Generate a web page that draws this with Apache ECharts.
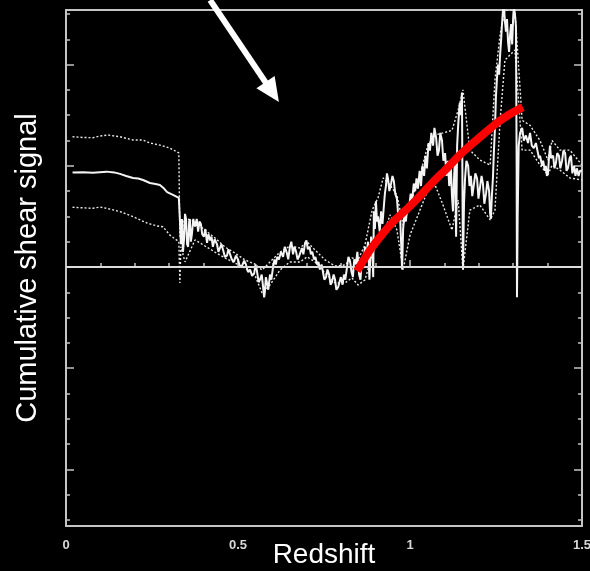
<!DOCTYPE html>
<html><head><meta charset="utf-8">
<script src="https://cdn.jsdelivr.net/npm/echarts@6/dist/echarts.min.js"></script>
<style>html,body{margin:0;padding:0;background:#000;}#c{width:590px;height:571px;}</style>
</head><body><div id="c"></div>
<script>
// ---- data ----
const xTickLabels = [0, 0.5, 1, 1.5];
const xMinorTicks = [0.1, 0.2, 0.3, 0.4, 0.6, 0.7, 0.8, 0.9, 1.1, 1.2, 1.3, 1.4];
const xMajorTicks = [0.5, 1];
const yMinorTicks = [-10,-9,-7,-6,-5,-3,-2,-1,1,2,3,5,6,7,9,10];
const yMajorTicks = [-8, -4, 0, 4, 8];

const centerLine = [
[0.019,3.74],[0.05,3.75],[0.078,3.73],[0.098,3.75],[0.118,3.77],[0.14,3.74],[0.157,3.68],[0.175,3.6],[0.195,3.52],[0.21,3.5],[0.224,3.44],[0.244,3.32],[0.26,3.28],[0.273,3.24],[0.285,3.1],[0.294,2.96],[0.311,2.85],[0.328,2.73],
[0.331,1.9],[0.334,0.9],[0.337,1.9],[0.340,0.6],[0.343,1.07],[0.346,2.1],[0.349,1.9],[0.352,0.9],[0.355,0.8],[0.358,1.8],[0.360,1.9],[0.363,1.0],[0.366,1.3],[0.370,1.9],
[0.375,1.6],[0.380,1.9],[0.384,1.4],[0.388,1.8],[0.392,1.7],[0.396,1.3],[0.401,1.2],[0.405,1.5],[0.410,0.95],[0.414,1.3],[0.419,1.05],[0.423,1.2],[0.427,0.8],[0.432,1.1],[0.439,0.9],[0.443,0.6],[0.448,0.6],[0.452,0.9],[0.456,0.7],[0.462,0.4],[0.468,0.45],[0.472,0.7],[0.477,0.5],[0.482,0.3],[0.488,0.2],[0.494,0.45],[0.500,0.3],[0.506,0.0],[0.512,0.05],[0.518,0.25],[0.523,0.1],[0.529,-0.2],[0.535,-0.1],[0.541,-0.35],[0.547,-0.25],[0.551,0.1],[0.555,-0.15],[0.560,-0.6],[0.564,-0.5],[0.569,-0.3],[0.573,-0.8],[0.576,-1.2],[0.578,-1.0],[0.581,-0.4],[0.584,-0.6],[0.588,-0.9],[0.593,-0.3],[0.597,-0.5],[0.602,0.0],[0.606,0.3],[0.610,0.1],[0.614,0.4],[0.619,0.3],[0.625,0.6],[0.631,0.4],[0.636,0.8],[0.642,0.55],[0.646,0.3],[0.651,0.8],[0.655,1.0],[0.660,0.5],[0.664,0.8],[0.669,0.6],[0.673,0.3],[0.677,0.4],[0.682,0.6],[0.686,0.75],[0.690,0.5],[0.695,0.95],[0.699,1.05],[0.703,0.7],[0.708,0.8],[0.712,0.5],[0.716,0.6],[0.721,0.3],[0.725,0.4],[0.730,0.1],[0.734,0.2],[0.738,-0.1],[0.743,0.1],[0.747,-0.2],[0.751,-0.5],[0.756,-0.4],[0.760,-0.1],[0.765,-0.3],[0.769,-0.7],[0.773,-0.6],[0.778,-0.3],[0.782,-0.5],[0.786,-0.9],[0.791,-0.8],[0.795,-0.6],[0.799,-0.4],[0.804,-0.7],[0.808,-0.3],[0.812,-0.5],[0.817,0.0],[0.821,0.4],[0.826,0.2],[0.830,-0.2],[0.834,-0.4],[0.838,0.3],[0.843,0.1],[0.847,0.6],[0.852,-0.3],[0.856,-0.5],[0.860,0.3],[0.865,0.1],[0.869,0.8],[0.873,0.4],[0.878,1.0],[0.882,-0.5],[0.887,1.2],[0.891,0.6],[0.893,-0.4],[0.895,2.2],[0.898,1.5],[0.901,2.6],[0.904,1.8],[0.907,2.0],[0.912,1.4],[0.916,2.2],[0.920,1.7],[0.924,2.4],[0.927,2.9],[0.930,3.2],[0.933,3.7],[0.936,3.5],[0.940,3.0],[0.945,3.3],[0.949,3.6],[0.953,3.4],[0.957,2.9],[0.962,2.7],[0.966,2.0],[0.971,2.1],[0.974,1.0],[0.977,-0.1],[0.980,1.5],[0.984,2.1],[0.988,1.8],[0.993,2.5],[0.997,2.3],[1.002,2.9],[1.006,2.6],[1.011,3.3],[1.015,3.0],[1.019,3.5],[1.023,3.1],[1.028,3.8],[1.032,3.2],[1.036,4.0],[1.041,3.6],[1.045,4.4],[1.049,3.9],[1.054,4.9],[1.058,4.6],[1.062,5.3],[1.067,4.8],[1.071,5.5],[1.076,5.1],[1.080,4.4],[1.084,4.6],[1.088,5.3],[1.093,5.0],[1.097,4.2],[1.102,4.5],[1.106,3.6],[1.110,4.2],[1.114,3.2],[1.119,3.9],[1.122,2.8],[1.125,2.2],[1.128,3.5],[1.131,4.4],[1.134,1.2],[1.137,4.8],[1.140,5.6],[1.143,6.2],[1.145,6.5],[1.148,6.0],[1.151,6.9],[1.153,2.0],[1.154,-0.1],[1.157,2.5],[1.160,3.5],[1.164,4.2],[1.169,4.0],[1.173,3.2],[1.177,3.6],[1.181,2.8],[1.186,3.3],[1.190,3.7],[1.195,3.5],[1.199,2.7],[1.203,3.1],[1.208,3.6],[1.212,3.3],[1.216,2.5],[1.221,2.9],[1.225,3.4],[1.230,3.0],[1.233,2.1],[1.235,1.9],[1.238,2.8],[1.241,3.5],[1.244,4.6],[1.247,5.5],[1.250,6.8],[1.253,7.5],[1.256,8.0],[1.259,7.6],[1.262,8.4],[1.265,9.0],[1.267,9.5],[1.270,10.1],[1.273,10.3],[1.276,9.7],[1.279,9.3],[1.282,9.8],[1.285,8.9],[1.288,8.5],[1.291,9.2],[1.294,9.6],[1.297,8.8],[1.300,9.9],[1.302,10.3],[1.305,10.0],[1.308,9.5],[1.310,4.0],[1.311,-1.2],[1.313,2.0],[1.316,4.8],[1.320,5.3],[1.326,5.5],[1.331,5.0],[1.337,5.2],[1.343,4.9],[1.349,5.3],[1.354,4.8],[1.360,4.7],[1.366,4.9],[1.369,4.7],[1.375,4.3],[1.378,4.4],[1.384,4.0],[1.387,4.2],[1.392,3.8],[1.395,4.0],[1.398,3.6],[1.401,3.7],[1.404,4.3],[1.407,4.8],[1.410,4.3],[1.416,4.4],[1.420,3.9],[1.424,4.1],[1.428,4.5],[1.433,4.4],[1.437,3.9],[1.442,4.2],[1.446,4.6],[1.451,4.5],[1.455,3.8],[1.459,3.9],[1.464,4.3],[1.468,4.4],[1.472,3.7],[1.477,4.0],[1.481,3.6],[1.485,3.9],[1.490,3.6],[1.494,3.8],[1.500,3.8]
];
const upperLine = [
[0.019,5.15],[0.05,5.12],[0.078,5.11],[0.1,5.18],[0.122,5.22],[0.14,5.18],[0.157,5.15],[0.195,5.02],[0.224,5.02],[0.244,4.90],[0.273,4.82],[0.302,4.70],[0.328,4.51],[0.331,1.2],
[0.346,1.94],[0.375,1.78],[0.404,1.46],[0.433,1.15],[0.462,0.79],[0.491,0.55],[0.520,0.28],[0.549,0.12],[0.570,-0.12],[0.593,0.2],[0.622,0.59],[0.651,0.83],[0.680,0.75],[0.701,0.99],[0.724,0.67],[0.753,0.28],[0.782,0.04],[0.811,0.08],[0.831,0.36],[0.849,0.28],
[0.869,0.87],[0.890,2.25],[0.907,2.73],[0.922,3.52],[0.942,3.24],[0.962,2.85],[0.980,1.66],[1.000,2.45],[1.029,3.64],[1.052,4.82],[1.073,5.22],[1.096,5.3],[1.122,5.4],[1.140,6.2],[1.154,7.0],[1.174,4.62],[1.203,4.23],[1.233,4.03],[1.247,7.4],[1.262,9.2],[1.276,10.16],[1.305,10.16],[1.326,5.8],[1.349,5.6],[1.378,5.0],[1.401,4.23],[1.413,5.0],[1.436,4.62],[1.465,4.62],[1.500,4.03]
];
const lowerLine = [
[0.019,2.36],[0.078,2.32],[0.099,2.37],[0.128,2.29],[0.157,2.19],[0.195,1.99],[0.235,1.74],[0.265,1.62],[0.282,1.59],[0.302,1.26],[0.328,1.0],[0.331,-0.63],[0.334,0.8],
[0.346,0.2],[0.375,1.07],[0.404,0.83],[0.433,0.59],[0.462,0.36],[0.491,0.16],[0.520,-0.04],[0.549,-0.32],[0.570,-1.03],[0.593,-0.71],[0.622,-0.12],[0.651,0.2],[0.680,0.2],[0.701,0.4],[0.724,0.2],[0.753,-0.24],[0.782,-0.63],[0.811,-0.63],[0.831,-0.43],[0.849,-0.71],
[0.869,-0.51],[0.890,0.47],[0.907,1.15],[0.922,1.26],[0.942,2.06],[0.962,1.46],[0.980,-0.12],[1.000,1.26],[1.029,2.25],[1.052,3.04],[1.073,3.24],[1.096,2.45],[1.122,1.46],[1.140,2.65],[1.154,-0.12],[1.174,2.25],[1.203,2.45],[1.233,1.86],[1.247,2.25],[1.262,5.81],[1.276,8.18],[1.305,8.58],[1.326,4.62],[1.349,4.62],[1.378,4.03],[1.401,3.64],[1.413,4.03],[1.436,3.83],[1.465,3.52],[1.500,3.44]
];
const redFit = [[0.846,-0.16],[0.884,0.67],[0.922,1.34],[0.956,1.86],[0.991,2.29],[1.029,2.81],[1.067,3.36],[1.108,3.91],[1.145,4.43],[1.180,4.86],[1.218,5.3],[1.256,5.73],[1.291,6.05],[1.328,6.32]];
const arrowStart = [0.419, 10.55];
const arrowTip = [0.619, 6.52];

// ---- chart ----
const AX = '#c4c4c4';
const FONT = 'Liberation Sans, Arial, sans-serif';
const chart = echarts.init(document.getElementById('c'), null, {renderer: 'canvas'});
const yBase = {type: 'value', min: -10.24, max: 10.16, axisLine: {show: false}, axisLabel: {show: false}, splitLine: {show: false}};
function yAx(pos, ticks, len, extra) {
  return Object.assign({}, yBase, {position: pos, axisTick: {show: true, inside: true, length: len, customValues: ticks, lineStyle: {color: AX, width: 1.5}}}, extra || {});
}
const option = {
  backgroundColor: '#000',
  animation: false,
  grid: {left: 66, right: 8, top: 10, bottom: 45, containLabel: false, outerBoundsMode: 'none',
         show: true, borderColor: AX, borderWidth: 2, backgroundColor: 'transparent'},
  xAxis: [
    {type: 'value', min: 0, max: 1.5, position: 'bottom', axisLine: {show: false}, splitLine: {show: false},
     axisTick: {show: true, inside: true, length: 4, customValues: xMinorTicks, lineStyle: {color: AX, width: 1.5}},
     axisLabel: {show: true, customValues: xTickLabels, margin: 13, color: '#d8d8d8', fontSize: 13, fontWeight: 'bold', fontFamily: FONT,
       formatter: v => String(v)},
     name: 'Redshift', nameLocation: 'middle', nameGap: 15, nameMoveOverlap: false,
     nameTextStyle: {color: '#fff', fontSize: 28, fontFamily: FONT, verticalAlign: 'top'}},
    {type: 'value', min: 0, max: 1.5, position: 'bottom', axisLine: {show: false}, splitLine: {show: false}, axisLabel: {show: false},
     axisTick: {show: true, inside: true, length: 7, customValues: xMajorTicks, lineStyle: {color: AX, width: 1.5}}}
  ],
  yAxis: [
    yAx('left', yMinorTicks, 4, {name: 'Cumulative shear signal', nameLocation: 'middle', nameGap: 24, nameMoveOverlap: false,
      nameTextStyle: {color: '#fff', fontSize: 29, fontFamily: FONT}}),
    yAx('left', yMajorTicks, 8),
    yAx('right', yMinorTicks, 4),
    yAx('right', yMajorTicks, 8)
  ],
  series: [
    {type: 'line', data: upperLine, symbol: 'none', lineStyle: {color: '#e8e8e8', width: 1.4, type: [2, 2]}, z: 3},
    {type: 'line', data: lowerLine, symbol: 'none', lineStyle: {color: '#e8e8e8', width: 1.4, type: [2, 2]}, z: 3},
    {type: 'line', data: centerLine, symbol: 'none', lineStyle: {color: '#f4f4f4', width: 2}, z: 4,
     markLine: {silent: true, symbol: ['none', 'none'], label: {show: false}, lineStyle: {color: '#dcdcdc', width: 2, type: 'solid'},
       data: [{yAxis: 0}]}},
    {type: 'line', data: redFit, symbol: 'none', smooth: 0.2, lineStyle: {color: '#ff0000', width: 8, cap: 'butt'}, z: 6}
  ]
};
chart.setOption(option);

// arrow via library coordinate conversion
const p0 = chart.convertToPixel({gridIndex: 0}, arrowStart);
const p1 = chart.convertToPixel({gridIndex: 0}, arrowTip);
const dx = p1[0] - p0[0], dy = p1[1] - p0[1];
const L = Math.hypot(dx, dy), ux = dx / L, uy = dy / L;
const headLen = 24, headHalf = 11;
const bx = p1[0] - ux * headLen, by = p1[1] - uy * headLen;
chart.setOption({graphic: [
  {type: 'line', shape: {x1: p0[0], y1: p0[1], x2: bx + ux * 2, y2: by + uy * 2}, style: {stroke: '#fff', lineWidth: 6}, z: 100},
  {type: 'polygon', shape: {points: [[p1[0], p1[1]], [bx - uy * headHalf, by + ux * headHalf], [bx + uy * headHalf, by - ux * headHalf]]}, style: {fill: '#fff'}, z: 100}
]});
</script>
</body></html>
